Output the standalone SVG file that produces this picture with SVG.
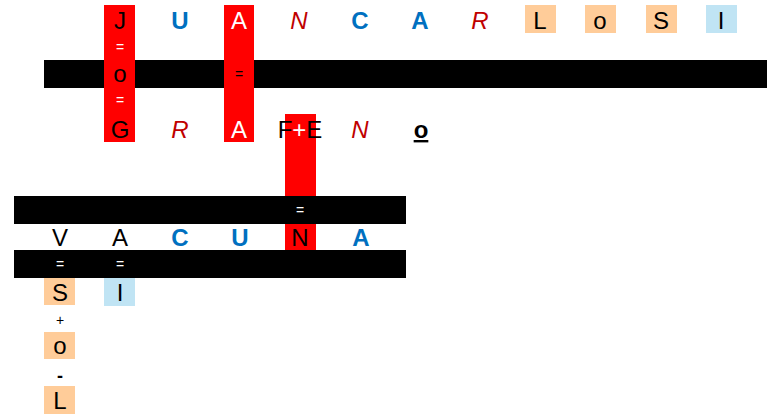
<svg xmlns="http://www.w3.org/2000/svg" width="775" height="417" viewBox="0 0 775 417">
<style>
text{font-family:"Liberation Sans",Arial,sans-serif;text-anchor:middle}
.L{font-size:24px;fill:#000}
.b{fill:#0070C0;font-weight:bold}
.r{fill:#C00000;font-style:italic}
.w{fill:#fff}
.s{font-size:14px}
.m{font-size:18px;font-weight:bold}
.red{fill:#FF0000}
.bar{fill:#000}
.or{fill:#FFCC99}
.lb{fill:#C0E4F4}
</style>
<rect width="775" height="417" fill="#fff"/>
<g id="bars">
<rect class="bar" x="44" y="60" width="723" height="28"/>
</g>
<g id="colJ">
<rect class="red" x="104" y="5" width="31" height="137"/>
<text class="L" x="120" y="29">J</text>
<text class="s w" x="120" y="52">=</text>
<text class="L" x="120" y="82">o</text>
<text class="s w" x="120" y="105">=</text>
<text class="L" x="120" y="138">G</text>
</g>
<g id="colA">
<rect class="red" x="224" y="5" width="30" height="137"/>
<text class="L w" x="239" y="29">A</text>
<text class="s" x="239" y="79">=</text>
<text class="L w" x="239" y="138">A</text>
</g>
<g id="colN">
<rect class="red" x="285" y="114" width="31" height="135"/>
</g>
<g id="row1">
<text class="L b" x="180" y="29">U</text>
<text class="L r" x="299" y="29">N</text>
<text class="L b" x="360" y="29">C</text>
<text class="L b" x="420" y="29">A</text>
<text class="L r" x="480" y="29">R</text>
<rect class="or" x="525" y="5" width="31" height="28"/>
<text class="L" x="540" y="29">L</text>
<rect class="or" x="585" y="5" width="31" height="28"/>
<text class="L" x="600" y="29">o</text>
<rect class="or" x="646" y="5" width="31" height="28"/>
<text class="L" x="661" y="29">S</text>
<rect class="lb" x="706" y="5" width="31" height="28"/>
<text class="L" x="721" y="29">I</text>
</g>
<g id="row2">
<text class="L r" x="180" y="138">R</text>
<text class="L" x="300" y="138">F<tspan class="w">+</tspan>E</text>
<text class="L r" x="360" y="138">N</text>
<text class="L" x="421" y="138" font-weight="bold" text-decoration="underline">o</text>
</g>
<g id="bar2">
<rect class="bar" x="14" y="196" width="392" height="28"/>
<text class="s w" x="300" y="215">=</text>
</g>
<g id="row3">
<rect class="red" x="285" y="224" width="31" height="26"/>
<text class="L" x="60" y="246">V</text>
<text class="L" x="120" y="246">A</text>
<text class="L b" x="180" y="246">C</text>
<text class="L b" x="240" y="246">U</text>
<text class="L" x="300" y="246">N</text>
<text class="L b" x="361" y="246">A</text>
</g>
<g id="bar3">
<rect class="bar" x="14" y="250" width="392" height="28"/>
<text class="s w" x="60" y="269">=</text>
<text class="s w" x="120" y="269">=</text>
</g>
<g id="col-bottom">
<rect class="or" x="44" y="278" width="31" height="27"/>
<text class="L" x="60" y="301">S</text>
<rect class="lb" x="104" y="278" width="31" height="28"/>
<text class="L" x="120" y="301">I</text>
<text class="s" x="60" y="325">+</text>
<rect class="or" x="44" y="332" width="31" height="27"/>
<text class="L" x="60" y="354">o</text>
<text class="m" x="60" y="382">-</text>
<rect class="or" x="44" y="386" width="31" height="28"/>
<text class="L" x="60" y="409">L</text>
</g>
</svg>
